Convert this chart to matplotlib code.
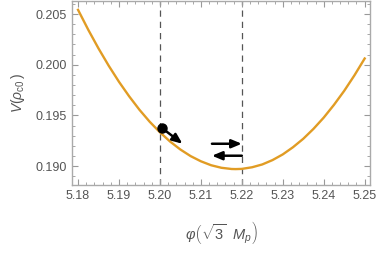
import matplotlib
matplotlib.use("Agg")
import matplotlib.pyplot as plt
from matplotlib.ticker import MultipleLocator

plt.rcParams['font.family'] = ['Liberation Sans', 'DejaVu Sans']
plt.rcParams['mathtext.fontset'] = 'custom'
plt.rcParams['mathtext.rm'] = 'Liberation Sans'
plt.rcParams['mathtext.it'] = 'Liberation Sans:italic'

phi = [5.1800, 5.1825, 5.1850, 5.1875, 5.1900, 5.1925, 5.1950, 5.1975,
       5.2000, 5.2025, 5.2050, 5.2075, 5.2100, 5.2125, 5.2150, 5.2175,
       5.2185, 5.2200, 5.2225, 5.2250, 5.2275, 5.2300, 5.2325, 5.2350,
       5.2375, 5.2400, 5.2425, 5.2450, 5.2475, 5.2500]
V = [0.20541, 0.20344, 0.20160, 0.19989, 0.19831, 0.19687, 0.19555, 0.19437,
     0.19333, 0.19241, 0.19163, 0.19098, 0.19047, 0.19008, 0.18983, 0.18971,
     0.18970, 0.18972, 0.18988, 0.19016, 0.19059, 0.19115, 0.19186, 0.19269,
     0.19367, 0.19478, 0.19604, 0.19742, 0.19895, 0.20061]
vlines = [5.20, 5.22]
ball = (5.2006, 0.19372)
ball_arrow_tip = (5.2055, 0.19220)
arrow_right = ((5.2127, 0.19220), (5.2200, 0.19220))
arrow_left = ((5.2200, 0.19102), (5.2127, 0.19102))

fig = plt.figure(figsize=(3.79, 2.57), dpi=100)
ax = fig.add_axes([0.1908, 0.2813, 0.977 - 0.1908, 0.996 - 0.2813])

gray = '#555555'
for xv in vlines:
    ax.axvline(xv, color='#555555', lw=0.9, ls=(0, (5, 4)), zorder=1)
ax.plot(phi, V, color='#E19C24', lw=1.7, zorder=2, solid_joinstyle='round')

ax.plot([ball[0]], [ball[1]], 'o', color='black', ms=6.5, zorder=4)
ap = dict(arrowstyle='-|>,head_length=0.6,head_width=0.25', color='black', lw=1.8,
          mutation_scale=10, shrinkA=0, shrinkB=0)
ax.annotate('', xy=ball_arrow_tip, xytext=ball, arrowprops=ap, zorder=3)
for (s, e) in (arrow_right, arrow_left):
    ax.annotate('', xy=e, xytext=s, arrowprops=ap, zorder=3)

ax.set_xlim(5.1786, 5.25137)
ax.set_ylim(0.18816, 0.20628)
ax.xaxis.set_minor_locator(MultipleLocator(0.002))
ax.yaxis.set_minor_locator(MultipleLocator(0.001))
ax.set_xticks([5.18, 5.19, 5.20, 5.21, 5.22, 5.23, 5.24, 5.25])
ax.set_xticklabels(['5.18', '5.19', '5.20', '5.21', '5.22', '5.23', '5.24', '5.25'])
ax.set_yticks([0.190, 0.195, 0.200, 0.205])
ax.set_yticklabels(['0.190', '0.195', '0.200', '0.205'])

ax.tick_params(which='both', direction='in', top=True, right=True, color='#999999',
               labelcolor=gray, labelsize=9)
ax.tick_params(which='major', length=4, width=0.8, pad=4)
ax.tick_params(which='minor', length=2, width=0.6)
for sp in ax.spines.values():
    sp.set_color('#aaaaaa')
    sp.set_linewidth(1.0)

ax.set_xlabel(r'$\varphi\left(\sqrt{3}\ \ M_p\right)$', color=gray, fontsize=10.5, labelpad=12)
ax.set_ylabel(r'$V(\rho_{\mathrm{c0}}\,)$', color=gray, fontsize=10, labelpad=6)

fig.savefig('out.png', dpi=100)
